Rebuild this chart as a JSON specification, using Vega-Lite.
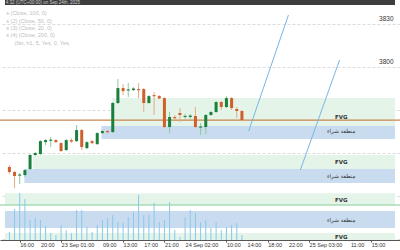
{
  "$schema": "https://vega.github.io/schema/vega-lite/v6.json",
  "width": 400,
  "height": 240,
  "autosize": {"type": "none"},
  "padding": {"left": 0, "top": 0, "right": 0, "bottom": 10},
  "background": "white",
  "config": {
    "view": {"stroke": null},
    "font": "Liberation Sans"
  },
  "datasets": {
    "candles": [
      {"i": 0, "o": 3730.2, "h": 3731.6, "l": 3725.3, "c": 3726.7, "v": 8},
      {"i": 1, "o": 3726.7, "h": 3727.4, "l": 3715.5, "c": 3723.9, "v": 31},
      {"i": 2, "o": 3724.2, "h": 3726.0, "l": 3718.3, "c": 3725.0, "v": 47},
      {"i": 3, "o": 3724.6, "h": 3728.8, "l": 3723.2, "c": 3728.1, "v": 41},
      {"i": 4, "o": 3728.8, "h": 3739.3, "l": 3728.1, "c": 3738.6, "v": 20},
      {"i": 5, "o": 3738.6, "h": 3740.7, "l": 3738.0, "c": 3740.0, "v": 22},
      {"i": 6, "o": 3739.3, "h": 3749.0, "l": 3738.6, "c": 3748.3, "v": 20},
      {"i": 7, "o": 3747.6, "h": 3749.7, "l": 3745.5, "c": 3749.0, "v": 14},
      {"i": 8, "o": 3748.5, "h": 3751.1, "l": 3744.2, "c": 3749.3, "v": 7},
      {"i": 9, "o": 3749.0, "h": 3749.7, "l": 3746.9, "c": 3747.6, "v": 5},
      {"i": 10, "o": 3746.9, "h": 3747.6, "l": 3740.7, "c": 3741.4, "v": 15},
      {"i": 11, "o": 3742.05, "h": 3749.7, "l": 3741.4, "c": 3749.0, "v": 10},
      {"i": 12, "o": 3749.0, "h": 3750.4, "l": 3746.9, "c": 3748.0, "v": 7},
      {"i": 13, "o": 3748.3, "h": 3759.5, "l": 3747.6, "c": 3756.0, "v": 30},
      {"i": 14, "o": 3756.0, "h": 3756.7, "l": 3742.05, "c": 3744.2, "v": 30},
      {"i": 15, "o": 3743.4, "h": 3748.3, "l": 3742.7, "c": 3747.6, "v": 13},
      {"i": 16, "o": 3748.3, "h": 3749.0, "l": 3746.2, "c": 3746.9, "v": 8},
      {"i": 17, "o": 3746.2, "h": 3754.6, "l": 3745.5, "c": 3753.9, "v": 15},
      {"i": 18, "o": 3753.9, "h": 3756.0, "l": 3753.2, "c": 3755.3, "v": 20},
      {"i": 19, "o": 3755.3, "h": 3756.0, "l": 3753.9, "c": 3754.5, "v": 22},
      {"i": 20, "o": 3754.6, "h": 3775.6, "l": 3753.9, "c": 3774.9, "v": 25},
      {"i": 21, "o": 3774.9, "h": 3791.6, "l": 3774.2, "c": 3785.3, "v": 18},
      {"i": 22, "o": 3785.3, "h": 3788.1, "l": 3780.4, "c": 3783.2, "v": 17},
      {"i": 23, "o": 3783.6, "h": 3788.8, "l": 3779.0, "c": 3784.4, "v": 23},
      {"i": 24, "o": 3783.9, "h": 3786.0, "l": 3783.2, "c": 3785.0, "v": 28},
      {"i": 25, "o": 3784.6, "h": 3788.8, "l": 3778.3, "c": 3783.8, "v": 45},
      {"i": 26, "o": 3784.6, "h": 3785.3, "l": 3768.6, "c": 3774.9, "v": 25},
      {"i": 27, "o": 3774.9, "h": 3780.4, "l": 3774.2, "c": 3779.7, "v": 25},
      {"i": 28, "o": 3780.4, "h": 3782.5, "l": 3766.5, "c": 3779.6, "v": 37},
      {"i": 29, "o": 3779.7, "h": 3780.4, "l": 3777.6, "c": 3778.0, "v": 18},
      {"i": 30, "o": 3778.3, "h": 3779.0, "l": 3757.4, "c": 3758.1, "v": 20},
      {"i": 31, "o": 3758.1, "h": 3768.6, "l": 3753.9, "c": 3765.1, "v": 38},
      {"i": 32, "o": 3765.1, "h": 3766.5, "l": 3763.0, "c": 3764.3, "v": 10},
      {"i": 33, "o": 3767.9, "h": 3771.4, "l": 3761.6, "c": 3766.5, "v": 3},
      {"i": 34, "o": 3765.1, "h": 3767.2, "l": 3763.7, "c": 3765.9, "v": 23},
      {"i": 35, "o": 3765.1, "h": 3767.2, "l": 3763.7, "c": 3766.1, "v": 30},
      {"i": 36, "o": 3765.8, "h": 3772.1, "l": 3757.4, "c": 3758.1, "v": 27},
      {"i": 37, "o": 3757.7, "h": 3760.9, "l": 3752.5, "c": 3758.5, "v": 18},
      {"i": 38, "o": 3758.1, "h": 3767.2, "l": 3753.2, "c": 3766.5, "v": 20},
      {"i": 39, "o": 3766.5, "h": 3769.3, "l": 3765.8, "c": 3768.6, "v": 12},
      {"i": 40, "o": 3768.6, "h": 3776.3, "l": 3767.9, "c": 3775.6, "v": 18},
      {"i": 41, "o": 3775.6, "h": 3776.3, "l": 3770.0, "c": 3772.1, "v": 10},
      {"i": 42, "o": 3772.1, "h": 3779.7, "l": 3771.4, "c": 3778.3, "v": 13},
      {"i": 43, "o": 3778.3, "h": 3779.0, "l": 3770.0, "c": 3771.4, "v": 15},
      {"i": 44, "o": 3770.7, "h": 3772.1, "l": 3764.4, "c": 3769.3, "v": 17},
      {"i": 45, "o": 3769.3, "h": 3770.0, "l": 3762.3, "c": 3763.0, "v": 5}
    ],
    "zones": [
      {"i": 19.9, "i2": 74.62, "p": 3758.8, "p2": 3778.35, "kind": "fvg"},
      {"i": 17.8, "i2": 74.62, "p": 3749.7, "p2": 3758.8, "kind": "buy"},
      {"i": 4.6, "i2": 74.62, "p": 3728.8, "p2": 3738.6, "kind": "fvg"},
      {"i": 2.9, "i2": 74.62, "p": 3719.0, "p2": 3728.8, "kind": "buy"},
      {"i": -0.85, "i2": 74.62, "p": 3703.7, "p2": 3712.0, "kind": "fvg"},
      {"i": -0.85, "i2": 74.62, "p": 3687.6, "p2": 3699.5, "kind": "buy"},
      {"i": -0.85, "i2": 74.62, "p": 3679.3, "p2": 3684.1, "kind": "fvg"}
    ],
    "fvgLabels": [
      {"i": 64.2, "p": 3765.4, "t": "FVG"},
      {"i": 64.2, "p": 3733.7, "t": "FVG"},
      {"i": 64.2, "p": 3707.15, "t": "FVG"},
      {"i": 64.2, "p": 3681.3, "t": "FVG"}
    ],
    "buyLabels": [
      {"i": 64.2, "p": 3755.3, "t": "منطقة شراء"},
      {"i": 64.2, "p": 3723.9, "t": "منطقة شراء"},
      {"i": 64.2, "p": 3693.2, "t": "منطقة شراء"}
    ],
    "xticks": [
      {"i": 2, "p": 3675.6, "t": "16:00"},
      {"i": 6, "p": 3675.6, "t": "20:00"},
      {"i": 10, "p": 3675.6, "t": "23 Sep 01:00"},
      {"i": 18, "p": 3675.6, "t": "09:00"},
      {"i": 22, "p": 3675.6, "t": "13:00"},
      {"i": 26, "p": 3675.6, "t": "17:00"},
      {"i": 30, "p": 3675.6, "t": "21:00"},
      {"i": 34, "p": 3675.6, "t": "24 Sep 02:00"},
      {"i": 42, "p": 3675.6, "t": "10:00"},
      {"i": 46, "p": 3675.6, "t": "14:00"},
      {"i": 50, "p": 3675.6, "t": "18:00"},
      {"i": 54, "p": 3675.6, "t": "22:00"},
      {"i": 58, "p": 3675.6, "t": "25 Sep 03:00"},
      {"i": 66, "p": 3675.6, "t": "11:00"},
      {"i": 70, "p": 3675.6, "t": "15:00"}
    ],
    "diag": [
      {"id": 1, "i": 46.3, "p": 3755.3},
      {"id": 1, "i": 54.0, "p": 3836.3},
      {"id": 2, "i": 56.3, "p": 3728.1},
      {"id": 2, "i": 63.9, "p": 3804.9}
    ],
    "level": [{"p": 3763.0}],
    "fvgLine": [{"p": 3703.7}],
    "legend": [
      {"i": -0.6, "p": 3837.7, "t": "s (Close, 100, 0)"},
      {"i": -0.6, "p": 3832.1, "t": "s (2) (Close, 50, 0)"},
      {"i": -0.6, "p": 3827.2, "t": "s (3) (Close, 20, 0)"},
      {"i": -0.6, "p": 3822.3, "t": "s (4) (Close, 200, 0)"},
      {"i": 1.0, "p": 3816.7, "t": "(No, h1, 5, Yes, 0, Yes,"}
    ],
    "band": [{"i": -0.85, "i2": 74.62, "p": 3843.2, "p2": 3846.75}],
    "bandText": [{"i": -0.7, "p": 3843.8, "t": "4:32 (UTC+00:00) on Sep 24th, 2025"}]
  },
  "layer": [
    {
      "layer": [
        {
          "data": {"name": "zones"},
          "mark": {"type": "rect"},
          "encoding": {
            "x": {"field": "i", "type": "quantitative", "scale": {"domain": [-0.85, 74.62], "nice": false, "zero": false}, "title": null,
              "axis": {"values": [2, 6, 10, 18, 22, 26, 30, 34, 42, 46, 50, 54, 58, 66, 70], "labels": false, "domainColor": "#555", "tickColor": "#555", "tickSize": 2, "grid": false, "title": null}},
            "x2": {"field": "i2"},
            "y": {"field": "p", "type": "quantitative", "scale": {"domain": [3679.3, 3846.75], "nice": false, "zero": false}, "title": null,
              "axis": {"orient": "right", "values": [3680, 3710, 3740, 3770, 3800, 3830], "labelExpr": "datum.value >= 3800 ? '' + datum.value : ''", "labelFontSize": 6.5, "labelColor": "#333", "domain": false, "ticks": false, "grid": true, "gridDash": [3, 2], "gridColor": "#dcdcdc", "labelAlign": "right", "labelPadding": -7, "labelBaseline": "bottom", "labelOffset": -3, "title": null}},
            "y2": {"field": "p2"},
            "color": {"condition": {"test": "datum.kind == 'fvg'", "value": "#e4f4e8"}, "value": "#c9dcef"}
          }
        },
        {
          "data": {"name": "fvgLine"},
          "mark": {"type": "rule", "color": "#7fcf98", "strokeWidth": 1},
          "encoding": {"y": {"field": "p", "type": "quantitative", "title": null, "axis": {"orient": "right"}}}
        },
        {
          "data": {"name": "level"},
          "mark": {"type": "rule", "color": "#c8864e", "strokeWidth": 1.3},
          "encoding": {"y": {"field": "p", "type": "quantitative", "title": null, "axis": {"orient": "right"}}}
        },
        {
          "data": {"name": "diag"},
          "mark": {"type": "line", "color": "#79b6e6", "strokeWidth": 1},
          "encoding": {
            "x": {"field": "i", "type": "quantitative", "title": null},
            "y": {"field": "p", "type": "quantitative", "title": null, "axis": {"orient": "right"}},
            "detail": {"field": "id"}
          }
        },
        {
          "data": {"name": "candles"},
          "mark": {"type": "rule", "strokeWidth": 1},
          "encoding": {
            "x": {"field": "i", "type": "quantitative", "title": null},
            "y": {"field": "l", "type": "quantitative", "title": null, "axis": {"orient": "right"}},
            "y2": {"field": "h"},
            "color": {"condition": {"test": "datum.c >= datum.o", "value": "#8cc9a0"}, "value": "#eba887"}
          }
        },
        {
          "data": {"name": "candles"},
          "mark": {"type": "bar", "size": 3},
          "encoding": {
            "x": {"field": "i", "type": "quantitative", "title": null},
            "y": {"field": "o", "type": "quantitative", "title": null, "axis": {"orient": "right"}},
            "y2": {"field": "c"},
            "color": {"condition": {"test": "datum.c >= datum.o", "value": "#1b7f3e"}, "value": "#cf5f2b"}
          }
        },
        {
          "data": {"name": "fvgLabels"},
          "mark": {"type": "text", "font": "DejaVu Sans", "fontSize": 5.5, "fontWeight": "bold", "color": "#333"},
          "encoding": {
            "x": {"field": "i", "type": "quantitative", "title": null},
            "y": {"field": "p", "type": "quantitative", "title": null, "axis": {"orient": "right"}},
            "text": {"field": "t"}
          }
        },
        {
          "data": {"name": "buyLabels"},
          "mark": {"type": "text", "font": "DejaVu Sans", "fontSize": 5.5, "color": "#333"},
          "encoding": {
            "x": {"field": "i", "type": "quantitative", "title": null},
            "y": {"field": "p", "type": "quantitative", "title": null, "axis": {"orient": "right"}},
            "text": {"field": "t"}
          }
        },
        {
          "data": {"name": "xticks"},
          "mark": {"type": "text", "align": "left", "baseline": "middle", "dx": 0.5, "fontSize": 5.5, "color": "#333"},
          "encoding": {
            "x": {"field": "i", "type": "quantitative", "title": null},
            "y": {"field": "p", "type": "quantitative", "title": null, "axis": {"orient": "right"}},
            "text": {"field": "t"}
          }
        },
        {
          "data": {"name": "band"},
          "mark": {"type": "rect", "color": "#3d3d3d"},
          "encoding": {
            "x": {"field": "i", "type": "quantitative", "title": null},
            "x2": {"field": "i2"},
            "y": {"field": "p", "type": "quantitative", "title": null, "axis": {"orient": "right"}},
            "y2": {"field": "p2"}
          }
        },
        {
          "data": {"name": "bandText"},
          "mark": {"type": "text", "align": "left", "baseline": "alphabetic", "fontSize": 4.5, "color": "#cfcfcf"},
          "encoding": {
            "x": {"field": "i", "type": "quantitative", "title": null},
            "y": {"field": "p", "type": "quantitative", "title": null, "axis": {"orient": "right"}},
            "text": {"field": "t"}
          }
        },
        {
          "data": {"name": "legend"},
          "mark": {"type": "text", "align": "left", "baseline": "middle", "fontSize": 5.5, "color": "#bdbdbd"},
          "encoding": {
            "x": {"field": "i", "type": "quantitative", "title": null},
            "y": {"field": "p", "type": "quantitative", "title": null, "axis": {"orient": "right"}},
            "text": {"field": "t"}
          }
        }
      ]
    },
    {
      "data": {"name": "candles"},
      "mark": {"type": "bar", "size": 1, "color": "#86c8ec"},
      "encoding": {
        "x": {"field": "i", "type": "quantitative", "scale": {"domain": [-0.85, 74.62], "nice": false, "zero": false}, "title": null},
        "y": {"field": "v", "type": "quantitative", "scale": {"domain": [0, 240], "nice": false}, "axis": null}
      }
    }
  ],
  "resolve": {"scale": {"y": "independent"}}
}
